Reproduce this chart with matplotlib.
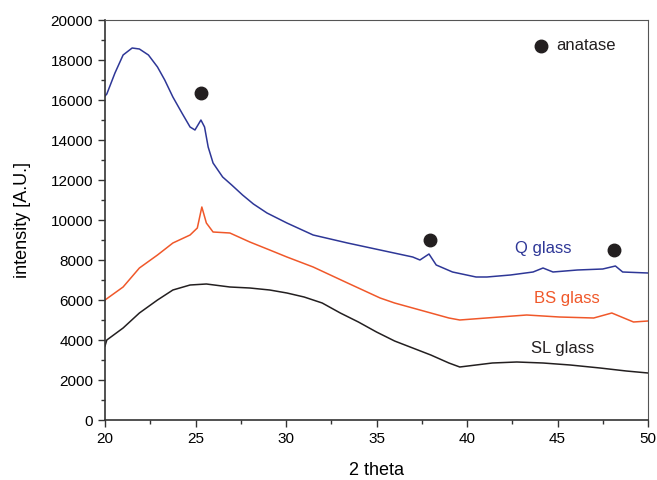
import matplotlib
matplotlib.use("Agg")
import matplotlib.pyplot as plt
from matplotlib.ticker import MultipleLocator

# ---------------------------------------------------------------------------
# Data (2 theta, intensity)
# ---------------------------------------------------------------------------
q_x = [20.0, 20.1, 20.55, 21.0, 21.5, 21.9, 22.4, 22.9, 23.3, 23.75, 24.25, 24.7,
       24.97, 25.3, 25.5, 25.7, 25.97, 26.5, 27.0, 27.6, 28.2, 28.95, 30.05, 31.5,
       33.4, 35.2, 37.0, 37.4, 37.9, 38.3, 39.2, 40.5, 41.1, 42.4, 43.65, 44.2,
       44.75, 46.1, 47.5, 48.2, 48.6, 50.0]
q_y = [16200, 16300, 17350, 18250, 18600, 18550, 18250, 17650, 17000, 16150, 15350, 14650,
       14500, 15000, 14650, 13650, 12850, 12150, 11750, 11250, 10800, 10350, 9850, 9250,
       8850, 8500, 8150, 8000, 8300, 7750, 7400, 7150, 7150, 7250, 7400, 7600,
       7400, 7500, 7550, 7700, 7400, 7350]

bs_x = [20.0, 21.0, 21.9, 22.9, 23.75, 24.7, 25.1, 25.35, 25.6, 25.97, 26.9, 28.0,
        29.1, 30.05, 31.5, 33.4, 35.2, 36.0, 37.0, 38.0, 39.0, 39.6, 41.8, 43.3,
        45.1, 47.0, 48.0, 49.2, 50.0]
bs_y = [6000, 6650, 7600, 8250, 8850, 9250, 9600, 10650, 9850, 9400, 9350, 8900,
        8500, 8150, 7650, 6850, 6100, 5850, 5600, 5350, 5100, 5000, 5150, 5250,
        5150, 5100, 5350, 4900, 4950]

sl_x = [20.0, 20.1, 21.0, 21.9, 22.9, 23.75, 24.7, 25.6, 26.9, 28.0, 29.1, 30.05,
        31.0, 32.0, 33.0, 34.0, 35.0, 36.0, 37.0, 38.0, 39.0, 39.6, 41.4, 42.75,
        44.2, 45.7, 47.35, 48.8, 50.0]
sl_y = [3700, 4000, 4600, 5350, 6000, 6500, 6750, 6800, 6650, 6600, 6500, 6350,
        6150, 5850, 5350, 4900, 4400, 3950, 3600, 3250, 2850, 2650, 2850, 2900,
        2850, 2750, 2600, 2450, 2350]

# anatase reflections
anatase_x = [25.3, 37.95, 48.1]
anatase_y = [16350, 9000, 8500]

C_Q = "#2e3797"
C_BS = "#f0582a"
C_SL = "#231f20"

plt.rcParams.update({
    "font.family": ["Liberation Sans", "DejaVu Sans"],
    "font.size": 11,
})

fig = plt.figure(figsize=(6.57, 4.8), dpi=100)
ax = fig.add_axes([105 / 657, 60 / 480, 543 / 657, 400 / 480])

ax.plot(q_x, q_y, color=C_Q, lw=1.1)
ax.plot(bs_x, bs_y, color=C_BS, lw=1.1)
ax.plot(sl_x, sl_y, color=C_SL, lw=1.1)

ax.plot(anatase_x, anatase_y, "o", color="#231f20", ms=9)
ax.plot([44.1], [18700], "o", color="#231f20", ms=9)
ax.text(44.95, 18700, "anatase", fontsize=12, va="center", color="#231f20")

ax.text(44.2, 8600, "Q glass", fontsize=12, color=C_Q, ha="center", va="center")
ax.text(45.5, 6100, "BS glass", fontsize=12, color=C_BS, ha="center", va="center")
ax.text(45.3, 3550, "SL glass", fontsize=12, color=C_SL, ha="center", va="center")

ax.set_xlim(20, 50)
ax.set_ylim(0, 20000)
ax.xaxis.set_major_locator(MultipleLocator(5))
ax.xaxis.set_minor_locator(MultipleLocator(2.5))
ax.yaxis.set_major_locator(MultipleLocator(2000))
ax.yaxis.set_minor_locator(MultipleLocator(1000))

ax.tick_params(which="both", direction="out", color="#333333", width=1, labelsize=11,
               top=False, right=False)
ax.tick_params(which="major", length=5)
ax.tick_params(which="minor", length=3)

ax.set_xlabel("2 theta", fontsize=13, labelpad=12)
ax.set_ylabel("intensity [A.U.]", fontsize=13, labelpad=14)

for side in ("left", "bottom"):
    ax.spines[side].set_color("#333333")
    ax.spines[side].set_linewidth(1.2)
for side in ("top", "right"):
    ax.spines[side].set_color("#555555")
    ax.spines[side].set_linewidth(0.8)

fig.savefig("out.png", dpi=100)
plt.close(fig)
